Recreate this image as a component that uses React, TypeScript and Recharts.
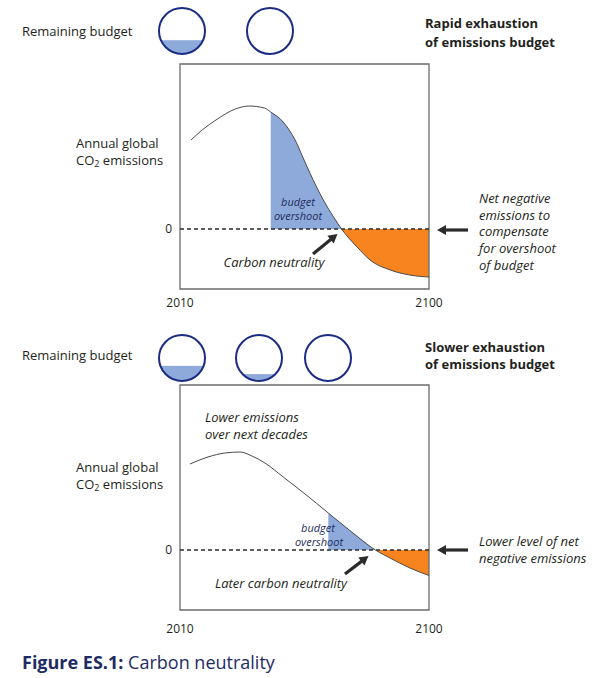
import React from 'react';
import { ComposedChart, Line, Area, XAxis, YAxis, ReferenceLine, ReferenceArea } from 'recharts';

// ---- data ----
const topYears = [2014, 2018, 2023, 2030, 2035, 2040.5, 2042.8, 2047.3, 2051.6, 2055, 2059, 2062, 2065.5, 2068.4, 2071, 2074, 2078.7, 2086, 2093, 2100];
const topEmissions = [8.9, 9.9, 10.9, 12.0, 12.3, 12.1, 11.7, 10.7, 8.9, 6.8, 4.4, 2.8, 1.2, 0, -0.9, -1.8, -3.1, -4.1, -4.6, -4.8];
const topOvershootStart = 2042.8;
const topNeutrality = 2068.4;

const bottomYears = [2013.6, 2020.1, 2026.3, 2031.7, 2036, 2040.7, 2047.3, 2055.2, 2063.6, 2071.4, 2080.6, 2085.9, 2093.1, 2100];
const bottomEmissions = [8.6, 9.3, 9.7, 9.8, 9.4, 8.7, 7.3, 5.6, 3.7, 1.95, 0, -0.8, -1.8, -2.55];
const bottomOvershootStart = 2063.6;
const bottomNeutrality = 2080.6;

const yearTicks = [2010, 2100];
const yearDomain = [2010, 2100];
const valueDomain = [-6, 16.5];
const zeroTick = [0];

const topBudgetLevels = [0.3, 0];
const bottomBudgetLevels = [0.33, 0.15, 0];

const FONT = '"Open Sans", "DejaVu Sans", sans-serif';
const INK = '#231f20';
const BLUE = '#8eaadb';
const ORANGE = '#f7841f';
const NAVY = '#1b2c84';

function buildRows(years: number[], values: number[], start: number, neutral: number) {
  return years.map((y, i) => ({
    year: y,
    emissions: values[i],
    overshoot: y >= start && y <= neutral ? values[i] : null,
    negative: y >= neutral ? values[i] : null,
  }));
}

const topRows = buildRows(topYears, topEmissions, topOvershootStart, topNeutrality);
const bottomRows = buildRows(bottomYears, bottomEmissions, bottomOvershootStart, bottomNeutrality);

function Panel({ rows, tickMargin }: { rows: any[]; tickMargin: number }) {
  return (
    <ComposedChart width={600} height={320} data={rows} margin={{ top: 64, right: 171, bottom: 11, left: 120 }}>
      <XAxis
        dataKey="year"
        type="number"
        domain={yearDomain}
        ticks={yearTicks}
        interval={0}
        axisLine={false}
        tickLine={false}
        height={20}
        tickMargin={tickMargin}
        tick={{ fontSize: 12, fill: INK, fontFamily: FONT }}
        allowDataOverflow
      />
      <YAxis
        type="number"
        domain={valueDomain}
        ticks={zeroTick}
        width={60}
        axisLine={false}
        tickLine={false}
        tickMargin={2}
        tick={{ fontSize: 12, fill: INK, fontFamily: FONT }}
        allowDataOverflow
      />
      <Area dataKey="overshoot" type="monotone" fill={BLUE} fillOpacity={1} stroke="none" isAnimationActive={false} connectNulls={false} />
      <Area dataKey="negative" type="monotone" fill={ORANGE} fillOpacity={1} stroke="none" isAnimationActive={false} connectNulls={false} />
      <ReferenceLine y={0} stroke="#2a2a2a" strokeWidth={1.6} strokeDasharray="4 3" />
      <Line dataKey="emissions" type="monotone" stroke="#4a4a4a" strokeWidth={1} dot={false} isAnimationActive={false} />
      <ReferenceArea x1={2010} x2={2100} y1={-6} y2={16.5} fill="none" stroke="#6b6b6b" strokeWidth={1.3} />
    </ComposedChart>
  );
}

function Arrow({ x1, y1, x2, y2 }: { x1: number; y1: number; x2: number; y2: number }) {
  const dx = x2 - x1, dy = y2 - y1;
  const len = Math.sqrt(dx * dx + dy * dy);
  const ux = dx / len, uy = dy / len;
  const hl = 9, hw = 5;
  const bx = x2 - ux * hl, by = y2 - uy * hl;
  const nx = -uy, ny = ux;
  return (
    <g>
      <line x1={x1} y1={y1} x2={bx + ux} y2={by + uy} stroke="#2b2b2b" strokeWidth={3.2} />
      <polygon points={`${x2},${y2} ${bx + nx * hw},${by + ny * hw} ${bx - nx * hw},${by - ny * hw}`} fill="#2b2b2b" />
    </g>
  );
}

function Budget({ cx, cy, level, id }: { cx: number; cy: number; level: number; id: string }) {
  const r = 23;
  const h = level * 2 * r;
  return (
    <g>
      <clipPath id={id}>
        <circle cx={cx} cy={cy} r={r} />
      </clipPath>
      {level > 0 && <rect x={cx - r} y={cy + r - h} width={2 * r} height={h} fill={BLUE} clipPath={`url(#${id})`} />}
      <circle cx={cx} cy={cy} r={r} fill="none" stroke={NAVY} strokeWidth={2} />
    </g>
  );
}

const txt = { fontFamily: FONT, fill: INK, dominantBaseline: 'central' as const };

export default function App() {
  const topCircleX = [182, 270];
  const bottomCircleX = [182, 259, 328];
  return (
    <div style={{ position: 'absolute', left: 0, top: 0, width: 600, height: 678, background: '#fff', overflow: 'hidden' }}>
      <div style={{ position: 'absolute', left: 0, top: 0 }}>
        <Panel rows={topRows} tickMargin={3} />
      </div>
      <div style={{ position: 'absolute', left: 0, top: 321 }}>
        <Panel rows={bottomRows} tickMargin={8} />
      </div>
      <svg width={600} height={678} style={{ position: 'absolute', left: 0, top: 0, pointerEvents: 'none' }}>
        {/* top panel */}
        <text x={22} y={31} fontSize={13} {...txt}>Remaining budget</text>
        {topCircleX.map((x, i) => (
          <Budget key={i} cx={x} cy={31} level={topBudgetLevels[i]} id={`tc${i}`} />
        ))}
        <text x={425} y={23} fontSize={13} fontWeight="bold" {...txt}>Rapid exhaustion</text>
        <text x={425} y={42} fontSize={13} fontWeight="bold" {...txt}>of emissions budget</text>
        <text x={76} y={143} fontSize={13} {...txt}>Annual global</text>
        <text x={76} y={160} fontSize={13} {...txt}>CO<tspan fontSize={9} dy={3}>2</tspan><tspan dy={-3}> emissions</tspan></text>
        <text x={298} y={201} fontSize={11} fontStyle="italic" textAnchor="middle" {...txt} fill="#1f2d5c">budget</text>
        <text x={298} y={215} fontSize={11} fontStyle="italic" textAnchor="middle" {...txt} fill="#1f2d5c">overshoot</text>
        <text x={274} y={262} fontSize={13} fontStyle="italic" textAnchor="middle" {...txt}>Carbon neutrality</text>
        <Arrow x1={313} y1={254} x2={337.5} y2={234} />
        <Arrow x1={468} y1={230} x2={437} y2={230} />
        {['Net negative', 'emissions to', 'compensate', 'for overshoot', 'of budget'].map((s, i) => (
          <text key={i} x={479} y={198 + i * 16.7} fontSize={13} fontStyle="italic" {...txt}>{s}</text>
        ))}

        {/* bottom panel */}
        <text x={22} y={355} fontSize={13} {...txt}>Remaining budget</text>
        {bottomCircleX.map((x, i) => (
          <Budget key={i} cx={x} cy={358} level={bottomBudgetLevels[i]} id={`bc${i}`} />
        ))}
        <text x={425} y={347} fontSize={13} fontWeight="bold" {...txt}>Slower exhaustion</text>
        <text x={425} y={364} fontSize={13} fontWeight="bold" {...txt}>of emissions budget</text>
        <text x={205} y={417} fontSize={13} fontStyle="italic" {...txt}>Lower emissions</text>
        <text x={205} y={434} fontSize={13} fontStyle="italic" {...txt}>over next decades</text>
        <text x={76} y={467} fontSize={13} {...txt}>Annual global</text>
        <text x={76} y={484} fontSize={13} {...txt}>CO<tspan fontSize={9} dy={3}>2</tspan><tspan dy={-3}> emissions</tspan></text>
        <text x={318} y={527} fontSize={11} fontStyle="italic" textAnchor="middle" {...txt} fill="#1f2d5c">budget</text>
        <text x={319} y={541} fontSize={11} fontStyle="italic" textAnchor="middle" {...txt} fill="#1f2d5c">overshoot</text>
        <text x={281} y={583} fontSize={13} fontStyle="italic" textAnchor="middle" {...txt}>Later carbon neutrality</text>
        <Arrow x1={345} y1={574} x2={368.5} y2={556} />
        <Arrow x1={468} y1={550} x2={437} y2={550} />
        <text x={479} y={541} fontSize={13} fontStyle="italic" {...txt}>Lower level of net</text>
        <text x={479} y={558} fontSize={13} fontStyle="italic" {...txt}>negative emissions</text>

        {/* caption */}
        <text x={22} y={662} fontSize={18} fontFamily={FONT} fill="#1e2b63" dominantBaseline="central">
          <tspan fontWeight="bold">Figure ES.1:</tspan>
          <tspan> Carbon neutrality</tspan>
        </text>
      </svg>
    </div>
  );
}
